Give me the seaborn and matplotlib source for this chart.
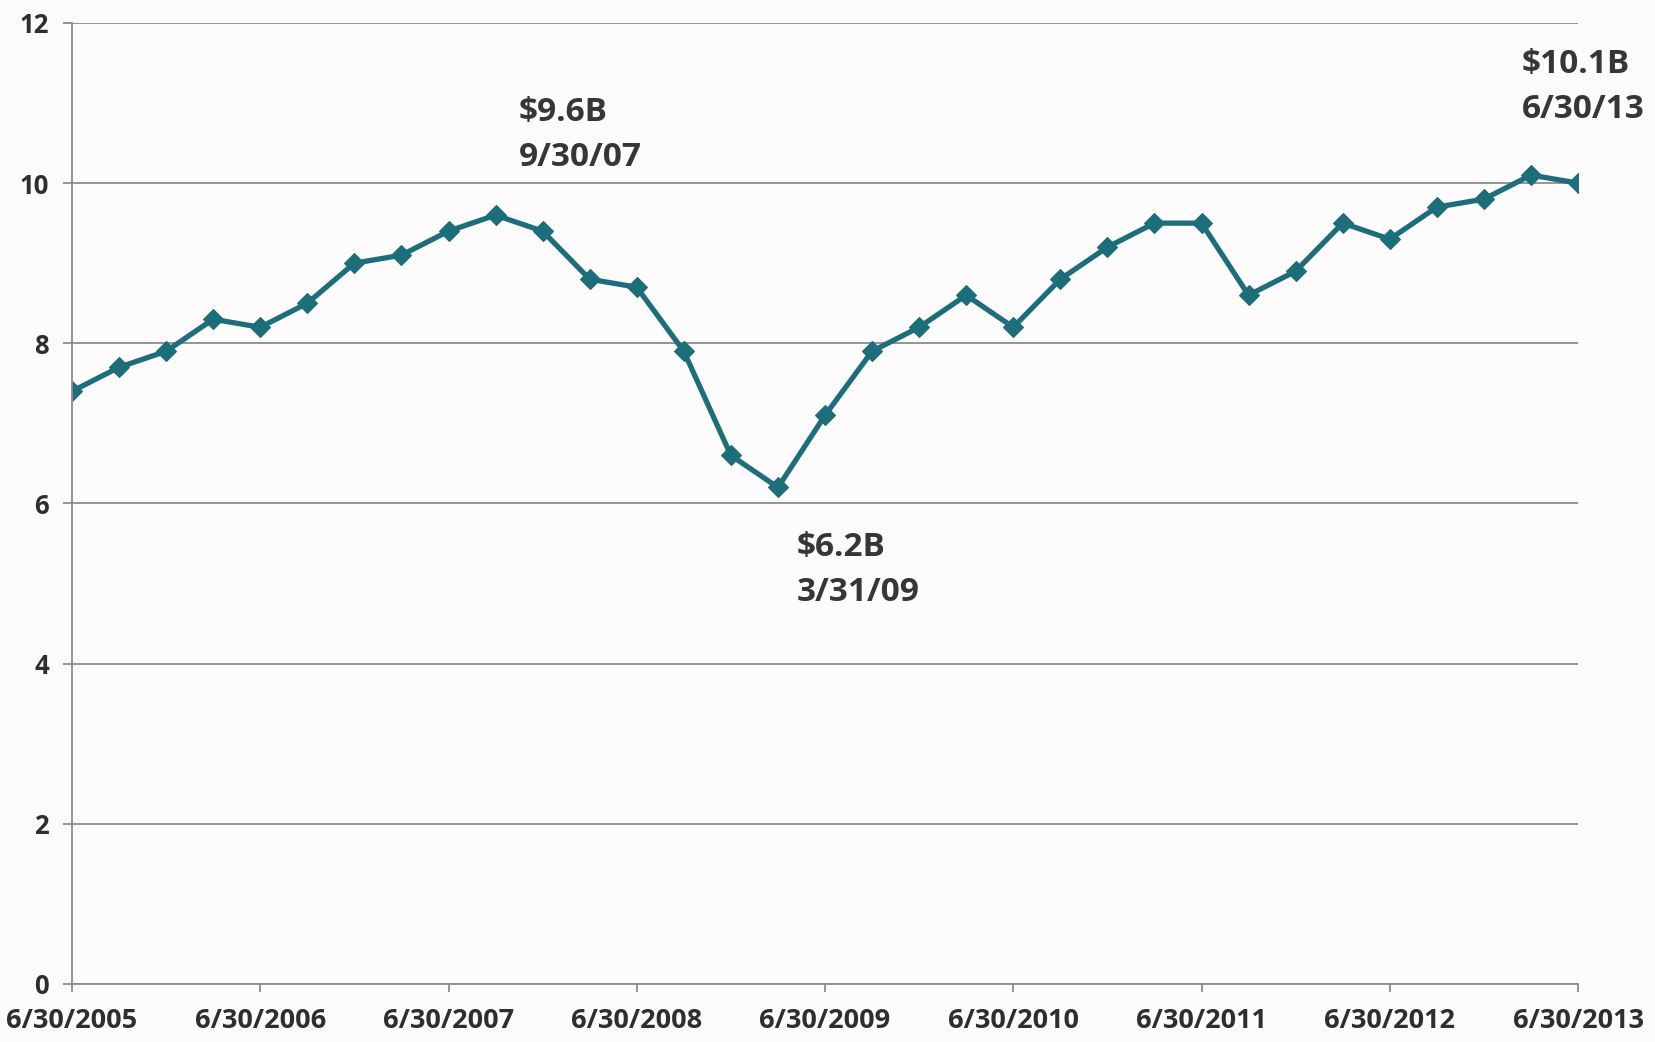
import matplotlib
matplotlib.use("Agg")
import matplotlib.pyplot as plt
import seaborn as sns
import pandas as pd

# quarterly values, $B, 6/30/2005 .. 6/30/2013
quarter = list(range(33))
value = [7.4, 7.7, 7.9, 8.3, 8.2, 8.5, 9.0, 9.1, 9.4, 9.6, 9.4, 8.8, 8.7,
         7.9, 6.6, 6.2, 7.1, 7.9, 8.2, 8.6, 8.2, 8.8, 9.2, 9.5, 9.5, 8.6,
         8.9, 9.5, 9.3, 9.7, 9.8, 10.1, 10.0]
year_ticks = [0, 4, 8, 12, 16, 20, 24, 28, 32]
year_labels = ["6/30/2005", "6/30/2006", "6/30/2007", "6/30/2008", "6/30/2009",
               "6/30/2010", "6/30/2011", "6/30/2012", "6/30/2013"]
notes = ["$9.6B\n9/30/07", "$6.2B\n3/31/09", "$10.1B\n6/30/13"]
note_x = [9.5, 15.4, 30.8]
note_y = [10.6, 5.17, 11.2]

df = pd.DataFrame({"quarter": quarter, "value": value})

sns.set_style("white")
plt.rcParams["font.family"] = ["Open Sans", "DejaVu Sans"]

fig = plt.figure(figsize=(16.55, 10.42), dpi=100, facecolor="#fdfbfb")
ax = fig.add_axes([0.0435, 0.0557, 0.91, 0.9223])
ax.set_facecolor("#fdfbfb")

teal = "#1b6e7a"
sns.lineplot(data=df, x="quarter", y="value", ax=ax, color=teal, linewidth=3.8,
             marker="D", markersize=10, markeredgewidth=0.8, markeredgecolor=teal)

ax.set_xlim(0, 32)
ax.set_ylim(0, 12)
ax.set_yticks([0, 2, 4, 6, 8, 10, 12])
ax.set_xticks(year_ticks)
ax.set_xticklabels(year_labels)
ax.set_xlabel("")
ax.set_ylabel("")

ax.grid(axis="y", color="#8c8c8c", linewidth=1.3)
ax.set_axisbelow(True)
for s in ["top", "right"]:
    ax.spines[s].set_visible(False)
for s in ["left", "bottom"]:
    ax.spines[s].set_color("#8c8c8c")
    ax.spines[s].set_linewidth(1.3)

ax.tick_params(axis="y", length=6.5, width=1.3, color="#8c8c8c", pad=10,
               labelsize=18.5, labelcolor="#2e2e2e")
ax.tick_params(axis="x", length=6, width=1.3, color="#8c8c8c", pad=11,
               labelsize=19.5, labelcolor="#2e2e2e", direction="out")
ax.yaxis.set_ticks_position("left")
ax.xaxis.set_ticks_position("bottom")
for lbl in ax.get_xticklabels() + ax.get_yticklabels():
    lbl.set_fontweight("bold")

for t, x, y in zip(notes, note_x, note_y):
    ax.text(x, y, t, ha="left", va="center", fontsize=24, fontweight="bold",
            color="#363636", linespacing=1.45, clip_on=False)

fig.savefig("out.png", dpi=100, facecolor=fig.get_facecolor())
